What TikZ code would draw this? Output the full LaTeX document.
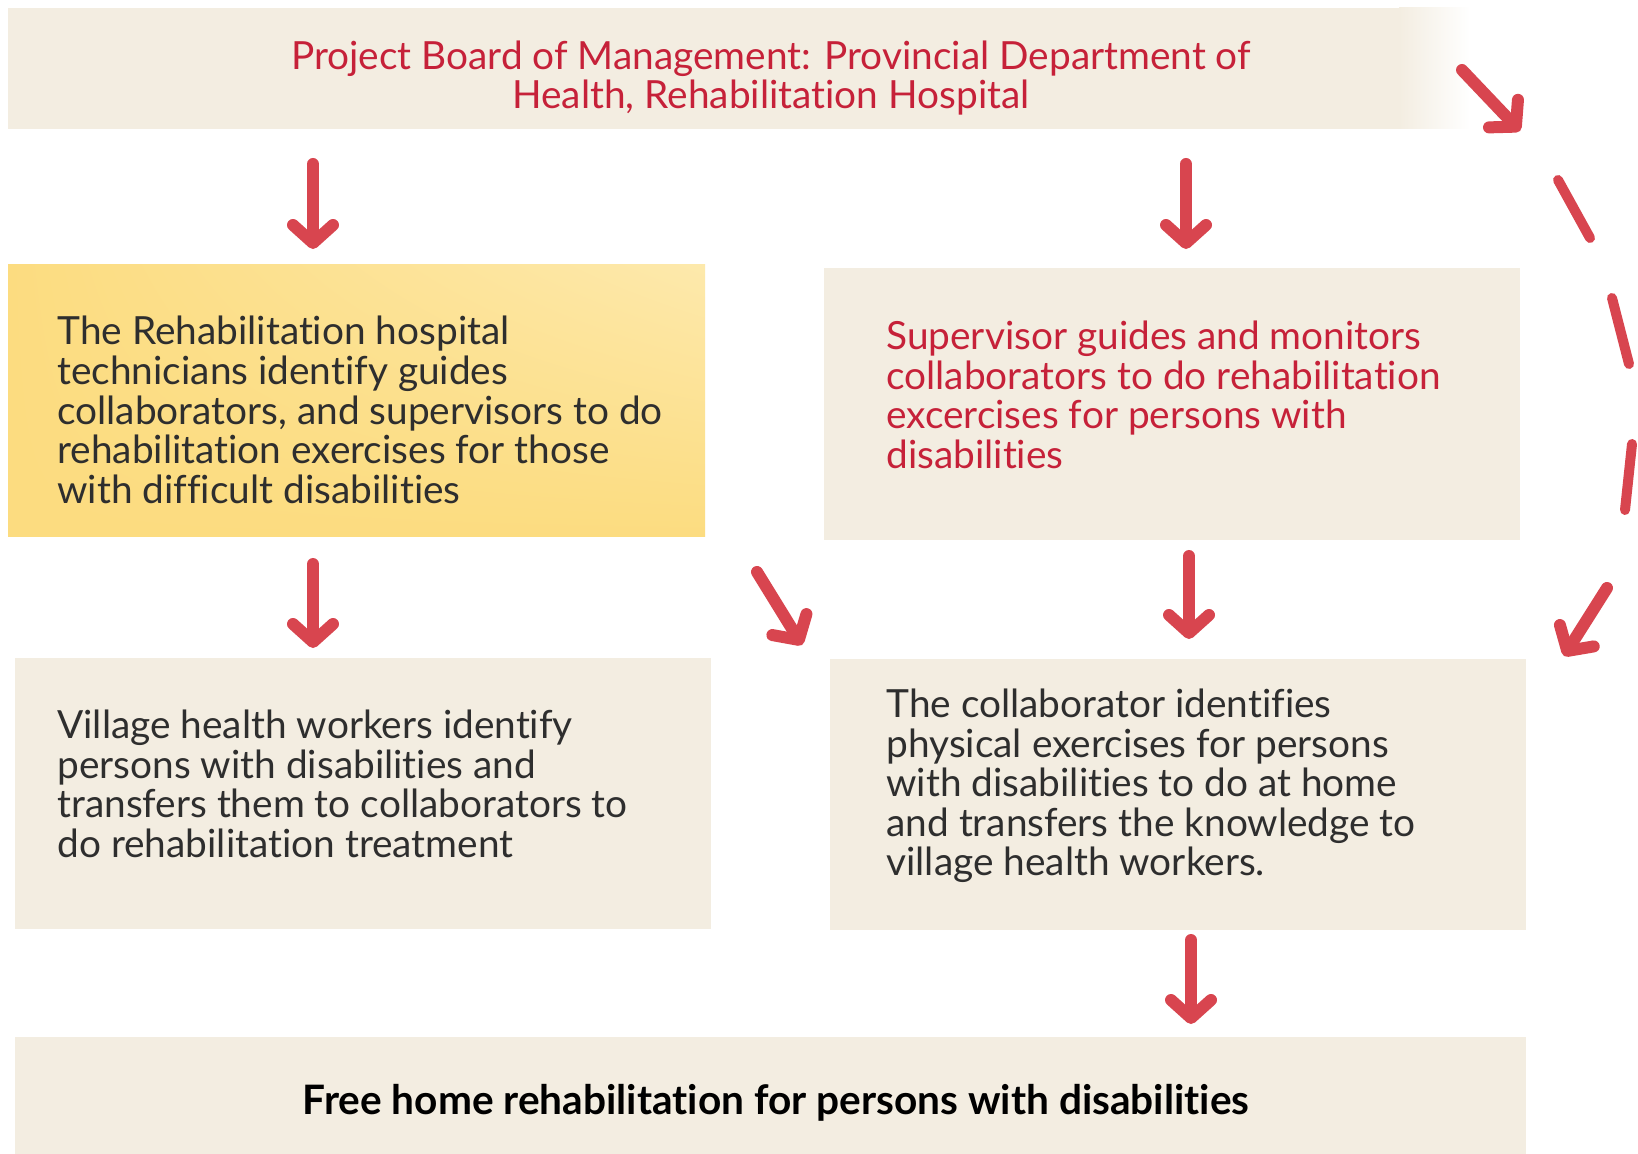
\documentclass[tikz,border=0pt]{standalone}
\usepackage{fontspec}
\setmainfont{Lato}[Ligatures=NoCommon]
\usetikzlibrary{arrows.meta,shadings}
\definecolor{beige}{HTML}{F3EDE1}
\definecolor{yellowbox}{HTML}{FCDC80}
\definecolor{yellowlight}{HTML}{FDE9AC}
\definecolor{redtext}{HTML}{C62139}
\definecolor{arrowred}{HTML}{D8454F}
\definecolor{darktext}{HTML}{2E2E2E}
\begin{document}
\begin{tikzpicture}[x=0.5pt,y=-0.5pt,
  box/.style={fill=beige, draw=none, inner sep=0pt, outer sep=0pt, anchor=north west},
  txt/.style={inner sep=0pt, anchor=west, align=left, text=darktext, font=\fontsize{19.4}{19.8}\selectfont},
  arr/.style={draw=arrowred, line width=6pt, line cap=round, -{Straight Barb[round, length=9pt, width=20pt]}},
  dashstroke/.style={draw=arrowred, line width=5pt, line cap=round}]
\useasboundingbox (0,0) rectangle (1638,1154);
\fill[white] (0,0) rectangle (1638,1154);
% boxes
\node[box, minimum width=696pt, minimum height=60.5pt] (top) at (8,8) {};
\shade[left color=beige, right color=white] (1399,8) rectangle (1470,129);
\node[box, fill=yellowbox, minimum width=348.5pt, minimum height=136pt] (yel) at (8,265) {};
\shade[upper left=yellowbox, upper right=yellowlight, lower left=yellowbox, lower right=yellowbox] (8,265) rectangle (705,537);
\node[box, minimum width=348pt, minimum height=136pt] (sup) at (824,268) {};
\node[box, minimum width=348pt, minimum height=135.5pt] (vil) at (15,658) {};
\node[box, minimum width=348pt, minimum height=135.5pt] (col) at (830,659) {};
\node[box, minimum width=755.5pt, minimum height=58.5pt] (free) at (15,1037) {};
% texts
\node[txt, anchor=center, align=center, text=redtext] (toptext) at (771,78)
  {Project Board of Management: Provincial Department of\\Health, Rehabilitation Hospital};
\node[txt] (yeltext) at (57,410)
  {The Rehabilitation hospital\\technicians identify guides\\collaborators, and supervisors to do\\rehabilitation exercises for those\\with difficult disabilities};
\node[txt, text=redtext] (suptext) at (886,395)
  {Supervisor guides and monitors\\collaborators to do rehabilitation\\excercises for persons with\\disabilities};
\node[txt] (viltext) at (57,784)
  {Village health workers identify\\persons with disabilities and\\transfers them to collaborators to\\do rehabilitation treatment};
\node[txt] (coltext) at (886,786)
  {The collaborator identifies\\physical exercises for persons\\with disabilities to do at home\\and transfers the knowledge to\\village health workers.};
\node[inner sep=0pt, text=black, font=\fontsize{20.3}{21}\selectfont\bfseries] (freetext) at (776,1103)
  {Free home rehabilitation for persons with disabilities};
% arrow coordinates
\coordinate (a1s) at (313,164); \coordinate (a1e) at (313,249);
\coordinate (a2s) at (1186,164); \coordinate (a2e) at (1186,249);
\coordinate (a3s) at (313,564); \coordinate (a3e) at (313,648);
\coordinate (a4s) at (757,572); \coordinate (a4e) at (802,645);
\coordinate (a5s) at (1189,556); \coordinate (a5e) at (1189,639);
\coordinate (a6s) at (1191,940); \coordinate (a6e) at (1191,1024);
\coordinate (r1s) at (1462,70); \coordinate (r1e) at (1520,131);
\coordinate (d1s) at (1558,180); \coordinate (d1e) at (1590,238);
\coordinate (d2s) at (1612,298); \coordinate (d2e) at (1629,364);
\coordinate (d3s) at (1632,444); \coordinate (d3e) at (1625,510);
\coordinate (r2s) at (1607,588); \coordinate (r2e) at (1564,656);
\draw[arr] (a1s) -- (a1e);
\draw[arr] (a2s) -- (a2e);
\draw[arr] (a3s) -- (a3e);
\draw[arr] (a4s) -- (a4e);
\draw[arr] (a5s) -- (a5e);
\draw[arr] (a6s) -- (a6e);
\draw[arr] (r1s) -- (r1e);
\draw[dashstroke] (d1s) -- (d1e);
\draw[dashstroke] (d2s) -- (d2e);
\draw[dashstroke] (d3s) -- (d3e);
\draw[arr] (r2s) -- (r2e);
\end{tikzpicture}
\end{document}
